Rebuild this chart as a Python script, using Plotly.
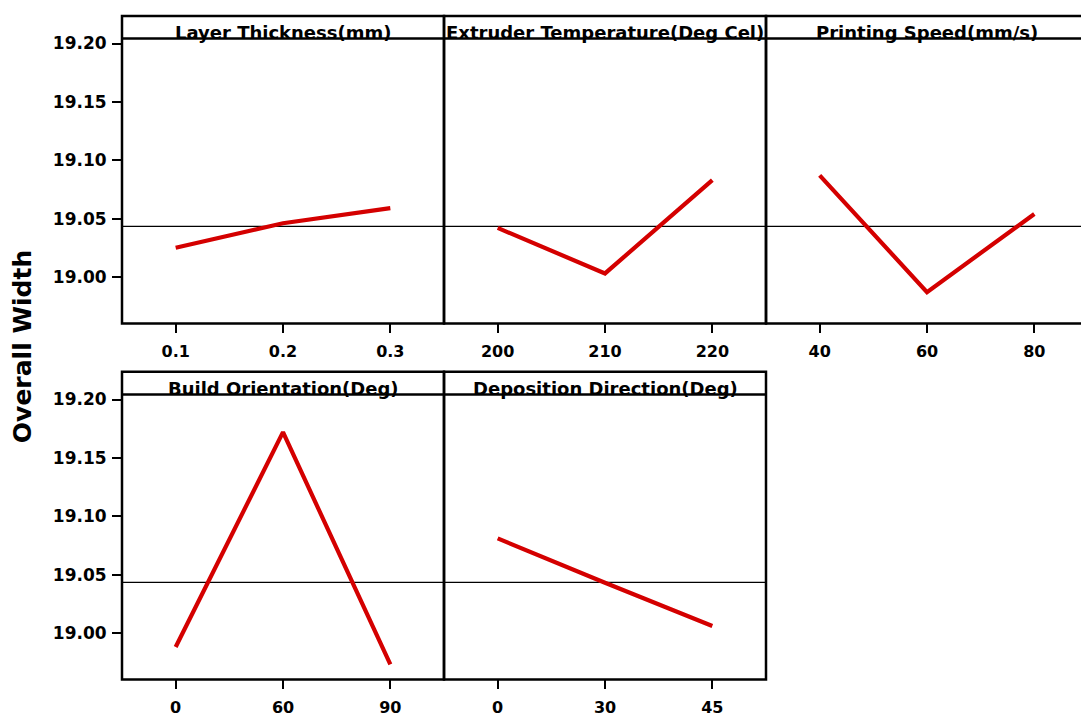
import numpy as np
import plotly.graph_objects as go

# Main effects of five printing parameters on overall width
factor_names = [
    "Layer Thickness(mm)",
    "Extruder Temperature(Deg Cel)",
    "Printing Speed(mm/s)",
    "Build Orientation(Deg)",
    "Deposition Direction(Deg)",
]
layer_levels = ["0.1", "0.2", "0.3"]
extruder_levels = ["200", "210", "220"]
speed_levels = ["40", "60", "80"]
orientation_levels = ["0", "60", "90"]
direction_levels = ["0", "30", "45"]

layer_means = [19.025, 19.046, 19.059]
extruder_means = [19.042, 19.003, 19.083]
speed_means = [19.087, 18.987, 19.054]
orientation_means = [18.988, 19.172, 18.973]
direction_means = [19.081, 19.043, 19.006]

y_ticks = [19.00, 19.05, 19.10, 19.15, 19.20]

all_levels = [layer_levels, extruder_levels, speed_levels, orientation_levels, direction_levels]
all_means = [layer_means, extruder_means, speed_means, orientation_means, direction_means]
grand_mean = float(np.mean(np.concatenate([np.array(m) for m in all_means])))

W, H = 1081, 717
FONT = "DejaVu Sans"
RED = "#d40000"
y_range = [18.9602, 19.2042]
cat_px = 322 / 3.0  # width of one level slot

def px_x(x):
    return x / W

def px_y(y):
    return 1 - y / H

# row geometry in pixels: (header_top, data_top, data_bottom)
rows = {
    "top": (11, 34, 322),
    "bottom": (371, 394, 682),
}
# panel horizontal extent in pixels
panels = [
    (122, 444, "top"),
    (444, 766, "top"),
    (766, 1088, "top"),
    (122, 444, "bottom"),
    (444, 766, "bottom"),
]

fig = go.Figure()
shapes = []
annotations = []

for i, (levels, means, name, (left, right, row)) in enumerate(
    zip(all_levels, all_means, factor_names, panels)
):
    k = "" if i == 0 else str(i + 1)
    hdr_top, data_top, data_bot = rows[row]
    vis_right = min(right, W)
    xr = [0.5, 0.5 + (vis_right - left) / cat_px]
    xpos = [1, 2, 3]

    fig.add_trace(go.Scatter(
        x=xpos, y=means, mode="lines",
        line=dict(color=RED, width=4.2),
        xaxis="x" + k, yaxis="y" + k, showlegend=False, hoverinfo="skip",
    ))

    first_col = left == 122
    fig.layout["xaxis" + k] = dict(
        domain=[px_x(left), px_x(vis_right)], range=xr, anchor="y" + k,
        tickvals=xpos, ticktext=levels, ticks="outside", ticklen=9,
        tickwidth=2, tickcolor="black", showgrid=False, zeroline=False,
        showline=False, ticklabelstandoff=4,
        tickfont=dict(family=FONT, size=16, color="black", weight="bold"),
    )
    fig.layout["yaxis" + k] = dict(
        domain=[px_y(data_bot), px_y(data_top)], range=y_range, anchor="x" + k,
        tickvals=y_ticks if first_col else [],
        ticktext=[f"{v:.2f}" for v in y_ticks] if first_col else [],
        ticks="outside" if first_col else "", ticklen=9, tickwidth=2,
        tickcolor="black", showgrid=False, zeroline=False, showline=False,
        showticklabels=first_col, ticklabelstandoff=2,
        tickfont=dict(family=FONT, size=17, color="black", weight="bold"),
    )

    # panel frame and strip header
    shapes.append(dict(type="rect", xref="paper", yref="paper",
                       x0=px_x(left), x1=px_x(right), y0=px_y(data_bot), y1=px_y(hdr_top),
                       line=dict(color="black", width=2.5), layer="above"))
    shapes.append(dict(type="line", xref="paper", yref="paper",
                       x0=px_x(left), x1=px_x(right), y0=px_y(data_top), y1=px_y(data_top),
                       line=dict(color="black", width=2.5), layer="above"))
    # overall mean reference line
    shapes.append(dict(type="line", xref="x" + k, yref="y" + k,
                       x0=xr[0], x1=xr[0] + (right - left) / cat_px,
                       y0=grand_mean, y1=grand_mean,
                       line=dict(color="black", width=1.2), layer="below"))

    annotations.append(dict(
        text=name, xref="paper", yref="paper",
        x=px_x((left + right) / 2), y=px_y(data_top + 6),
        xanchor="center", yanchor="bottom", showarrow=False,
        font=dict(family=FONT, size=18, color="black", weight="bold"),
    ))

annotations.append(dict(
    text="Overall Width", xref="paper", yref="paper",
    x=px_x(22), y=px_y(346), xanchor="center", yanchor="middle",
    textangle=-90, showarrow=False,
    font=dict(family=FONT, size=25, color="black", weight="bold"),
))

fig.update_layout(
    width=W, height=H,
    margin=dict(l=0, r=0, t=0, b=0),
    paper_bgcolor="white", plot_bgcolor="white",
    shapes=shapes, annotations=annotations,
)

fig.write_html("out.html")
